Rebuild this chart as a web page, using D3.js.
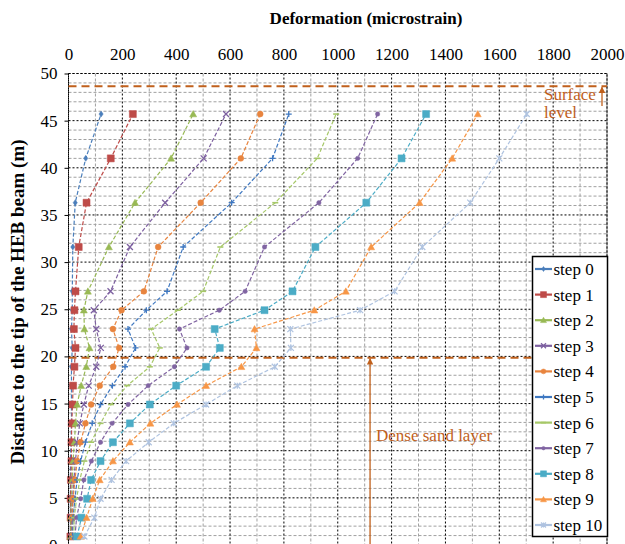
<!DOCTYPE html>
<html><head><meta charset="utf-8">
<script src="https://cdn.jsdelivr.net/npm/d3@7/dist/d3.min.js"></script>
<style>html,body{margin:0;padding:0;background:#fff;overflow:hidden}
svg text{font-family:'Liberation Serif','Times New Roman',serif}</style>
</head><body><svg id="c" width="625" height="544"></svg>
<script>
const depths = [0.9, 2.9, 4.9, 6.9, 8.9, 10.9, 12.9, 14.9, 16.9, 18.9, 20.9, 22.9, 24.9, 26.9, 31.6, 36.3, 41.0, 45.7];
const seriesNames = ["step 0","step 1","step 2","step 3","step 4","step 5","step 6","step 7","step 8","step 9","step 10"];
const step0  = [7, 7, 7, 7, 7, 9, 11, 11, 11, 11, 14, 11, 14, 14, 16, 25, 64, 121];
const step1  = [7, 8, 8, 9, 11, 11, 12, 15, 17, 22, 26, 20, 22, 26, 38, 67, 157, 239];
const step2  = [8, 9, 11, 14, 17, 22, 26, 32, 47, 66, 78, 59, 57, 72, 150, 247, 381, 463];
const step3  = [11, 12, 15, 20, 26, 32, 42, 57, 75, 103, 120, 103, 94, 156, 228, 359, 502, 585];
const step4  = [14, 14, 17, 24, 32, 45, 63, 84, 116, 166, 188, 165, 197, 280, 333, 491, 640, 712];
const step5  = [15, 17, 24, 32, 45, 63, 88, 119, 163, 210, 249, 221, 289, 366, 426, 606, 758, 818];
const step6  = [20, 21, 30, 42, 59, 84, 119, 158, 218, 302, 339, 307, 406, 500, 564, 768, 924, 994];
const step7  = [24, 30, 45, 57, 85, 119, 162, 221, 296, 393, 440, 412, 560, 656, 728, 930, 1074, 1148];
const step8  = [32, 48, 69, 84, 119, 165, 228, 302, 400, 511, 562, 543, 728, 832, 917, 1106, 1237, 1328];
const step9  = [45, 67, 90, 116, 165, 228, 304, 403, 511, 642, 698, 691, 913, 1030, 1124, 1304, 1425, 1520];
const step10 = [59, 96, 119, 160, 214, 298, 391, 511, 627, 766, 826, 824, 1083, 1211, 1314, 1492, 1600, 1702];
const allSeries = [step0, step1, step2, step3, step4, step5, step6, step7, step8, step9, step10];
const xTicks = [0, 200, 400, 600, 800, 1000, 1200, 1400, 1600, 1800, 2000];
const yTicks = [0, 5, 10, 15, 20, 25, 30, 35, 40, 45, 50];
const surfaceLevel = 48.65;
const denseSandLevel = 19.86;
const denseArrowX = 1120;

const colors = ["#4A7EBB","#BE4B48","#98B954","#7D60A0","#E8843E","#3F78C1","#A6C868","#8064A2","#4BACC6","#F79646","#AFC3E0"];
const symbols = ["diamond","square","triangle","x","circle","plus","dash","circleS","square","triangle","asterisk"];

const svg = d3.select("#c");
const x = d3.scaleLinear().domain([0, 2000]).range([68.5, 607]);
const y = d3.scaleLinear().domain([0, 50]).range([545, 73.5]);
const font = "'Liberation Serif','Times New Roman',serif";
const accent = "#C0601C";

// minor grid
const g = svg.append("g");
d3.range(100, 2000, 200).forEach(v => {
  g.append("line").attr("x1", x(v)).attr("x2", x(v)).attr("y1", y(50)).attr("y2", y(0))
   .attr("stroke", "#A0A0A0").attr("stroke-width", 1).attr("stroke-dasharray", "3,2");
});
d3.range(1, 50, 1).filter(v => v % 5 !== 0).forEach(v => {
  g.append("line").attr("x1", x(0)).attr("x2", x(2000)).attr("y1", y(v)).attr("y2", y(v))
   .attr("stroke", "#A0A0A0").attr("stroke-width", 1).attr("stroke-dasharray", "3,2");
});
// major grid
xTicks.forEach(v => {
  g.append("line").attr("x1", x(v)).attr("x2", x(v)).attr("y1", y(50)).attr("y2", y(0))
   .attr("stroke", "#000").attr("stroke-width", 1).attr("stroke-dasharray", "2,2");
});
yTicks.forEach(v => {
  g.append("line").attr("x1", x(0)).attr("x2", x(2000)).attr("y1", y(v)).attr("y2", y(v))
   .attr("stroke", "#000").attr("stroke-width", 1).attr("stroke-dasharray", "2,2");
});

// axes
const xAxis = svg.append("g").attr("transform", `translate(0,${y(50)})`)
  .call(d3.axisTop(x).tickValues(xTicks).tickFormat(d3.format("d")).tickSize(0).tickPadding(14));
const yAxis = svg.append("g").attr("transform", `translate(${x(0)},0)`)
  .call(d3.axisLeft(y).tickValues(yTicks).tickFormat(d3.format("d")).tickSize(4).tickPadding(7));
[xAxis, yAxis].forEach(a => {
  a.attr("font-family", null).attr("font-size", null);
  a.select(".domain").remove();
  a.selectAll("text").style("font-family", font).style("font-size", "17px").attr("fill", "#000");
  a.selectAll("line").attr("stroke", "#000");
});

// level lines
[surfaceLevel, denseSandLevel].forEach(v => {
  svg.append("line").attr("x1", x(0)).attr("x2", x(2000)).attr("y1", y(v)).attr("y2", y(v))
    .attr("stroke", accent).attr("stroke-width", 2).attr("stroke-dasharray", "8,5");
});

// symbol path generator
function symPath(name, s) {
  const h = s / 2;
  switch (name) {
    case "diamond": return `M0,${-h}L${h*0.7},0L0,${h}L${-h*0.7},0Z`;
    case "square": return `M${-h},${-h}H${h}V${h}H${-h}Z`;
    case "triangle": return `M0,${-h}L${h},${h*0.8}L${-h},${h*0.8}Z`;
    case "circle": return d3.symbol(d3.symbolCircle, s*s*0.75)();
    case "circleS": return d3.symbol(d3.symbolCircle, s*s*0.6)();
    default: return "";
  }
}
function drawMarker(sel, name, color, cx, cy, s) {
  const t = `translate(${cx},${cy})`;
  const h = s / 2;
  if (["diamond","square","triangle","circle","circleS"].includes(name)) {
    sel.append("path").attr("d", symPath(name, s)).attr("transform", t).attr("fill", color).attr("stroke", color).attr("stroke-width", 0.5);
  } else if (name === "x") {
    sel.append("path").attr("d", `M${-h},${-h}L${h},${h}M${-h},${h}L${h},${-h}`).attr("transform", t).attr("stroke", color).attr("stroke-width", 1.3).attr("fill", "none");
  } else if (name === "plus") {
    sel.append("path").attr("d", `M${-h},0H${h}M0,${-h}V${h}`).attr("transform", t).attr("stroke", color).attr("stroke-width", 1.3).attr("fill", "none");
  } else if (name === "dash") {
    sel.append("path").attr("d", `M${-h},0H${h}`).attr("transform", t).attr("stroke", color).attr("stroke-width", 1.6).attr("fill", "none");
  } else if (name === "asterisk") {
    sel.append("path").attr("d", `M${-h},${-h}L${h},${h}M${-h},${h}L${h},${-h}M0,${-h}V${h}`).attr("transform", t).attr("stroke", color).attr("stroke-width", 1.2).attr("fill", "none");
  }
}
const markerSize = [6, 7, 7, 6, 6, 6, 6, 5, 7, 7, 6];

// series
const line = d3.line().x(d => x(d[0])).y(d => y(d[1]));
allSeries.forEach((vals, i) => {
  const pts = vals.map((v, k) => [v, depths[k]]);
  const sg = svg.append("g");
  sg.append("path").attr("d", line(pts)).attr("fill", "none").attr("stroke", colors[i])
    .attr("stroke-width", 1.2).attr("stroke-dasharray", "4,2");
  pts.forEach(p => drawMarker(sg, symbols[i], colors[i], x(p[0]), y(p[1]), markerSize[i]));
});

// plot border
svg.append("rect").attr("x", x(0)).attr("y", y(50)).attr("width", x(2000) - x(0)).attr("height", y(0) - y(50))
  .attr("fill", "none").attr("stroke", "#000").attr("stroke-width", 1).attr("stroke-dasharray", "2,2");

// arrows
svg.append("defs").append("marker").attr("id", "ah").attr("viewBox", "0 0 10 10").attr("refX", 9).attr("refY", 5)
  .attr("markerWidth", 5).attr("markerHeight", 5).attr("orient", "auto")
  .append("path").attr("d", "M0,0L10,5L0,10Z").attr("fill", accent);
svg.append("line").attr("x1", 602).attr("x2", 602).attr("y1", 106).attr("y2", y(surfaceLevel) + 1)
  .attr("stroke", accent).attr("stroke-width", 1.3).attr("marker-end", "url(#ah)");
svg.append("line").attr("x1", x(denseArrowX)).attr("x2", x(denseArrowX)).attr("y1", 545).attr("y2", y(denseSandLevel) + 1)
  .attr("stroke", accent).attr("stroke-width", 1.3).attr("marker-end", "url(#ah)");

// annotations
function txt(xp, yp, s, opts = {}) {
  return svg.append("text").attr("x", xp).attr("y", yp).text(s)
    .style("font-family", font).style("font-size", (opts.size || 17) + "px")
    .style("font-weight", opts.bold ? "bold" : "normal")
    .attr("fill", opts.fill || "#000").attr("text-anchor", opts.anchor || "start");
}
txt(544, 100, "Surface", {fill: accent});
txt(544, 118, "level", {fill: accent});
txt(376, 441, "Dense sand layer", {fill: accent});

// titles
txt(366, 24, "Deformation (microstrain)", {bold: true, anchor: "middle"});
txt(0, 0, "Distance to the tip of the HEB beam (m)", {bold: true, anchor: "middle", size: 19})
  .attr("x", null).attr("y", null).attr("transform", "translate(24,302) rotate(-90)");

// legend
const lg = svg.append("g");
lg.append("rect").attr("x", 532.5).attr("y", 256.5).attr("width", 75).attr("height", 280)
  .attr("fill", "#fff").attr("stroke", "#000").attr("stroke-width", 1.5);
seriesNames.forEach((n, i) => {
  const cy = 269 + i * 25.6;
  lg.append("line").attr("x1", 535).attr("x2", 552).attr("y1", cy).attr("y2", cy)
    .attr("stroke", colors[i]).attr("stroke-width", 2.2);
  drawMarker(lg, symbols[i], colors[i], 543.5, cy, markerSize[i] - 1);
  lg.append("text").attr("x", 553.5).attr("y", cy + 6).text(n)
    .style("font-family", font).style("font-size", "17px").attr("fill", "#000");
});
</script></body></html>
